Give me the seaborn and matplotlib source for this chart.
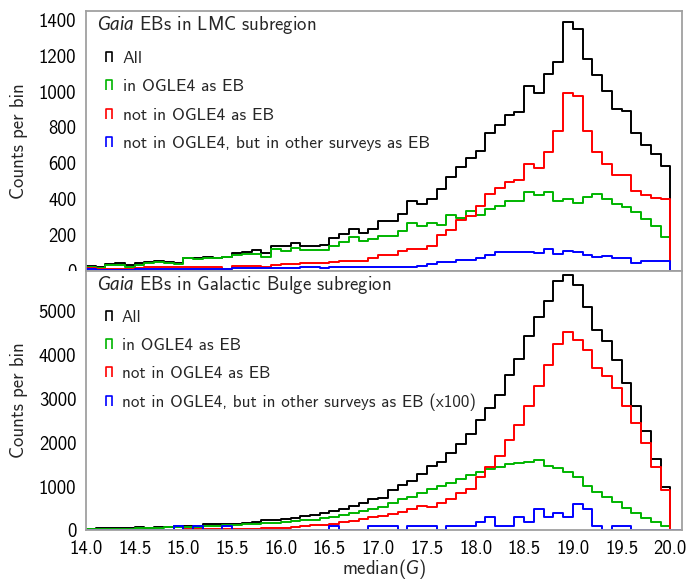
import numpy as np
import pandas as pd
import matplotlib
matplotlib.use("Agg")
import matplotlib.pyplot as plt
import seaborn as sns
from matplotlib.lines import Line2D
from matplotlib.path import Path
from matplotlib.patches import Rectangle
from matplotlib.ticker import MultipleLocator, FormatStrFormatter

# ---------------- data (counts per 0.1 mag bin, 14.0 ... 20.1) ----------------
bin_start, bin_stop, bin_width = 14.0, 20.1, 0.1

lmc_all = [25, 18, 36, 40, 31, 40, 48, 55, 48, 44,
           72, 68, 77, 72, 77, 96, 105, 113, 100, 139,
           135, 154, 135, 139, 143, 182, 206, 230, 212, 230,
           278, 278, 313, 387, 370, 402, 456, 525, 576, 626,
           669, 766, 811, 867, 888, 1032, 994, 1099, 1166, 1391,
           1351, 1183, 1092, 1002, 901, 890, 770, 703, 650, 583, 0]
lmc_in = [18, 12, 31, 31, 18, 31, 40, 46, 40, 36,
          68, 62, 72, 68, 74, 87, 92, 92, 77, 119,
          111, 128, 115, 115, 115, 138, 160, 186, 167, 175,
          193, 193, 218, 268, 249, 264, 255, 311, 296, 335,
          311, 343, 361, 386, 386, 437, 422, 437, 389, 400,
          376, 408, 428, 400, 370, 357, 329, 287, 246, 186, 0]
lmc_not = [15, 8, 10, 10, 10, 12, 18, 18, 18, 18,
           18, 18, 18, 18, 8, 25, 25, 25, 22, 31,
           36, 36, 40, 40, 44, 48, 52, 52, 52, 70,
           88, 88, 108, 121, 121, 135, 198, 228, 283, 305,
           363, 430, 459, 493, 505, 594, 570, 662, 781, 991,
           977, 777, 663, 596, 536, 536, 445, 420, 407, 400, 0]
lmc_other = [8, 5, 5, 5, 5, 6, 10, 10, 10, 10,
             8, 8, 8, 8, 8, 16, 16, 16, 12, 16,
             16, 12, 21, 21, 16, 21, 20, 20, 20, 20,
             20, 20, 20, 20, 27, 35, 46, 46, 59, 59,
             68, 87, 105, 102, 105, 105, 96, 119, 92, 109,
             102, 87, 77, 83, 68, 72, 40, 53, 53, 53, 0]

bul_all = [45, 60, 60, 60, 60, 83, 68, 83, 83, 98,
           106, 106, 137, 151, 159, 159, 174, 204, 235, 235,
           257, 295, 326, 356, 402, 448, 495, 560, 625, 707,
           730, 910, 1034, 1132, 1284, 1460, 1555, 1771, 1965, 2192,
           2508, 2795, 3086, 3530, 3890, 4416, 4852, 5214, 5670, 5806,
           5575, 5080, 4560, 4302, 3884, 3344, 2840, 2260, 1630, 996, 0]
bul_in = [29, 45, 45, 45, 45, 60, 60, 60, 83, 83,
          83, 83, 106, 106, 121, 136, 151, 159, 174, 174,
          204, 220, 235, 250, 273, 305, 350, 388, 441, 486,
          540, 616, 707, 768, 859, 950, 1011, 1087, 1163, 1262,
          1322, 1398, 1452, 1510, 1543, 1566, 1604, 1474, 1414, 1338,
          1224, 1011, 882, 768, 654, 502, 388, 274, 198, 99, 0]
bul_not = [10, 10, 10, 10, 10, 10, 10, 10, 22, 22,
           30, 30, 30, 30, 30, 45, 45, 45, 60, 68,
           68, 83, 106, 121, 136, 150, 182, 220, 258, 296,
           327, 372, 425, 479, 555, 540, 631, 722, 844, 942,
           1208, 1452, 1700, 2060, 2402, 2840, 3276, 3770, 4248, 4507,
           4340, 4096, 3694, 3519, 3238, 2835, 2450, 1999, 1452, 920, 0]
bul_other = [0, 0, 0, 0, 0, 0, 0, 0, 0, 1,
             0, 1, 0, 0, 1, 0, 0, 0, 0, 0,
             0, 0, 0, 0, 0, 1, 0, 0, 0, 1,
             1, 1, 0, 1, 1, 1, 0, 1, 1, 1,
             2, 3, 1, 1, 3, 2, 5, 3, 4, 3,
             6, 5, 1, 0, 1, 1, 0, 0, 0, 0, 0]
bul_other_scale = 100

labels_lmc = ["All", "in OGLE4 as EB", "not in OGLE4 as EB",
              "not in OGLE4, but in other surveys as EB"]
labels_bul = ["All", "in OGLE4 as EB", "not in OGLE4 as EB",
              "not in OGLE4, but in other surveys as EB (x100)"]
title_lmc = r"$\it{Gaia}$ EBs in LMC subregion"
title_bul = r"$\it{Gaia}$ EBs in Galactic Bulge subregion"
colors = ["#000000", "#00b400", "#ff0000", "#0000ff"]

x_ticks = np.arange(14.0, 20.01, 0.5)

# ---------------- style ----------------
sns.set_theme(style="white")
plt.rcParams.update({
    "font.family": ["cmss10", "DejaVu Sans"],
    "mathtext.fontset": "custom",
    "mathtext.rm": "cmss10",
    "mathtext.it": "Lato:italic",
    "axes.unicode_minus": False,
    "axes.formatter.use_mathtext": False,
})

fig = plt.figure(figsize=(6.9, 5.81), dpi=100)
ax1 = fig.add_axes([0.12464, 0.53442, 0.86377, 0.44664])
ax2 = fig.add_axes([0.12464, 0.08692, 0.86377, 0.44750])

n_bins = len(lmc_all)
centers = bin_start + bin_width * (np.arange(n_bins) + 0.5)

umark = Path([(-0.6, -1.0), (-0.6, 1.0), (0.6, 1.0), (0.6, -1.0)],
             [Path.MOVETO, Path.LINETO, Path.LINETO, Path.LINETO])


def draw_panel(ax, series, labels, title, ylim, ystep, yminor, legsize):
    for vals, c in zip(series, colors):
        df = pd.DataFrame({"mag": centers, "count": np.asarray(vals, float)})
        sns.histplot(data=df, x="mag", weights="count", binwidth=bin_width,
                     binrange=(bin_start, bin_stop), element="step",
                     fill=False, color=c, linewidth=1.4, ax=ax)
    ax.set_xlim(14.0, 20.12)
    ax.set_ylim(*ylim)
    ax.set_xticks(x_ticks)
    ax.xaxis.set_major_formatter(FormatStrFormatter("%.1f"))
    ax.xaxis.set_minor_locator(MultipleLocator(0.1))
    ax.yaxis.set_major_locator(MultipleLocator(ystep))
    ax.yaxis.set_minor_locator(MultipleLocator(yminor))
    ax.tick_params(axis="both", which="both", direction="in", colors="#909090",
                   labelcolor="black", labelsize=13.5, width=0.8)
    ax.tick_params(axis="both", which="major", length=4, pad=7)
    ax.tick_params(axis="both", which="minor", length=2.5)
    ax.tick_params(top=False, right=False, which="both")
    for s in ax.spines.values():
        s.set_color("#a0a0a0")
        s.set_linewidth(1.3)
    ax.set_ylabel("Counts per bin", fontsize=13.5, labelpad=8)
    ax.text(0.0185, 0.946, title, transform=ax.transAxes, ha="left",
            va="center", fontsize=13.5)
    handles = [Line2D([], [], color=c, marker=umark, linestyle="none",
                      markersize=7, markerfacecolor="none", markeredgewidth=1.2)
               for c in colors]
    ax.legend(handles, labels, loc="upper left",
              bbox_to_anchor=(0.029, 0.848), frameon=False, fontsize=legsize,
              handlelength=0.7, handletextpad=0.4, labelspacing=0.76,
              borderaxespad=0.0, borderpad=0.0)


draw_panel(ax1, [lmc_all, lmc_in, lmc_not, lmc_other], labels_lmc, title_lmc,
           (0, 1450), 200, 50, 12.6)
bul_other_shown = [v * bul_other_scale for v in bul_other]
draw_panel(ax2, [bul_all, bul_in, bul_not, bul_other_shown], labels_bul, title_bul,
           (0, 5910), 1000, 250, 12.3)

ax1.tick_params(labelbottom=False)
ax1.set_xlabel("")
ax2.set_xlabel(r"median($G$)", fontsize=13.5, labelpad=-1)

# the lower panel hides the lower half of the upper panel's "0" label
fig.patches.append(Rectangle((0.0, 0.5110), 0.12, 0.0232,
                             transform=fig.transFigure, facecolor="white",
                             edgecolor="none", zorder=10))

fig.savefig("out.png", dpi=100)
